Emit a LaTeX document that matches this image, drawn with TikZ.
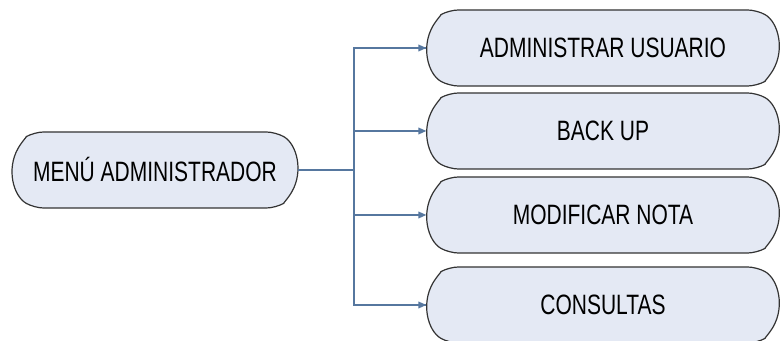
\documentclass[tikz,border=0pt]{standalone}
\usepackage{fontspec}
\setmainfont{Liberation Sans}[FakeStretch=0.75]
\usepackage{xcolor}
\usetikzlibrary{shapes.misc,arrows.meta}
\definecolor{relleno}{HTML}{E4E9F4}
\definecolor{linea}{HTML}{56779F}
\tikzset{
  caja/.style={draw=black!80,fill=relleno,line width=0.9pt,rounded rectangle,
    rounded rectangle arc length=120,rounded corners=7pt,minimum height=57pt,inner sep=0pt,
    font=\fontsize{21}{24}\selectfont},
  flecha/.style={draw=linea,line width=1pt,-{Triangle[length=6pt,width=5pt]}},
}
\begin{document}
\begin{tikzpicture}[x=0.75pt,y=-0.75pt]

%
\useasboundingbox (0,0) rectangle (783,341);
\node[caja,minimum width=214pt] (menu) at (155,170) {MENÚ ADMINISTRADOR};
\node[caja,minimum width=264pt] (usuario) at (603,48) {ADMINISTRAR USUARIO};
\node[caja,minimum width=264pt] (backup) at (603,131) {BACK UP};
\node[caja,minimum width=264pt] (nota) at (603,215) {MODIFICAR NOTA};
\node[caja,minimum width=264pt] (consultas) at (603,305) {CONSULTAS};
\coordinate (rama) at (354,170);
\draw[linea,line width=1pt] (menu.east) -- (rama);
\draw[linea,line width=1pt] (rama) |- (usuario.west);
\draw[linea,line width=1pt] (rama) |- (consultas.west);
\foreach \n in {usuario,backup,nota,consultas}
  \draw[flecha] (rama |- \n.west) -- (\n.west);

\end{tikzpicture}
\end{document}
